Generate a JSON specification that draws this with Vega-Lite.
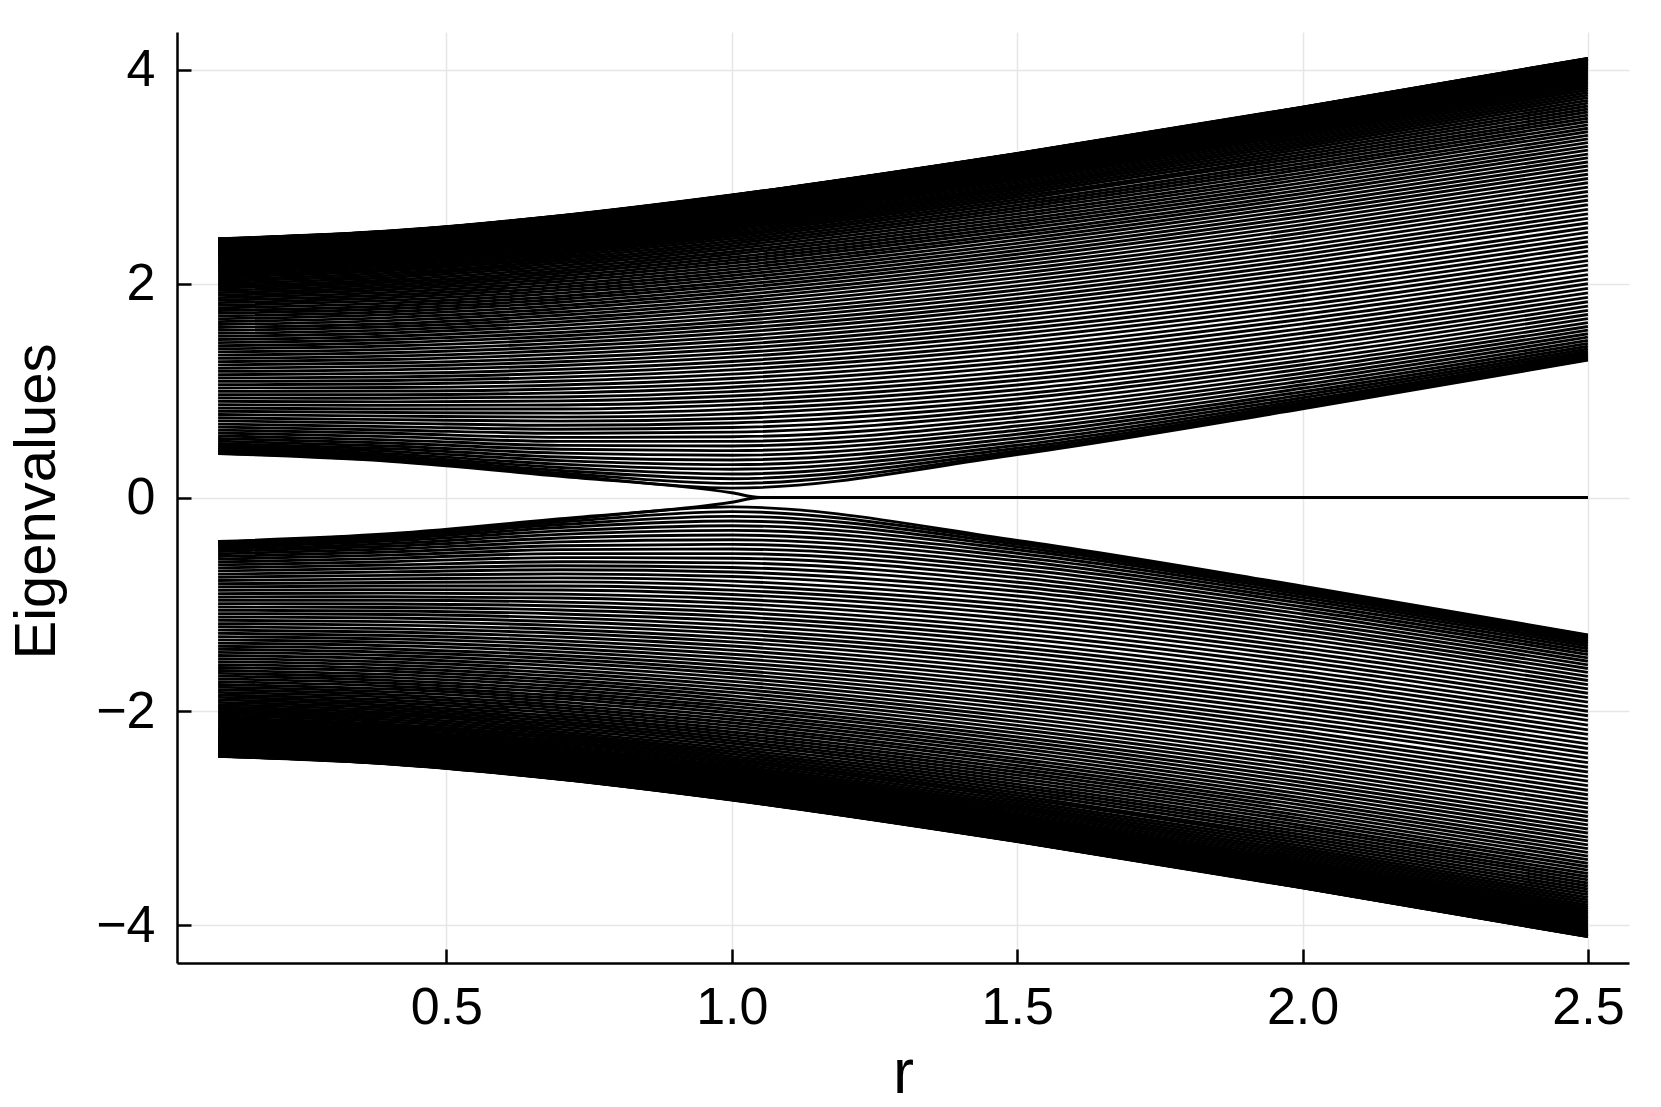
{
"$schema": "https://vega.github.io/schema/vega-lite/v6.json",
"width": 1452, "height": 931,
"autosize": {"type": "none"},
"padding": {"left": 177, "top": 32, "right": 32, "bottom": 144},
"background": "white",
"config": {"view": {"stroke": null}, "font": "Liberation Sans"},
"data": {"values": [
{"r":0.1,"j":1,"p":2.419,"n":-2.419},{"r":0.1,"j":2,"p":2.418,"n":-2.418},{"r":0.1,"j":3,"p":2.417,"n":-2.417},{"r":0.1,"j":4,"p":2.415,"n":-2.415},{"r":0.1,"j":5,"p":2.412,"n":-2.412},{"r":0.1,"j":6,"p":2.409,"n":-2.409},{"r":0.1,"j":7,"p":2.405,"n":-2.405},{"r":0.1,"j":8,"p":2.401,"n":-2.401},{"r":0.1,"j":9,"p":2.396,"n":-2.396},{"r":0.1,"j":10,"p":2.391,"n":-2.391},
{"r":0.1,"j":11,"p":2.385,"n":-2.385},{"r":0.1,"j":12,"p":2.378,"n":-2.378},{"r":0.1,"j":13,"p":2.371,"n":-2.371},{"r":0.1,"j":14,"p":2.364,"n":-2.364},{"r":0.1,"j":15,"p":2.356,"n":-2.356},{"r":0.1,"j":16,"p":2.347,"n":-2.347},{"r":0.1,"j":17,"p":2.338,"n":-2.338},{"r":0.1,"j":18,"p":2.328,"n":-2.328},{"r":0.1,"j":19,"p":2.317,"n":-2.317},{"r":0.1,"j":20,"p":2.306,"n":-2.306},
{"r":0.1,"j":21,"p":2.295,"n":-2.295},{"r":0.1,"j":22,"p":2.283,"n":-2.283},{"r":0.1,"j":23,"p":2.271,"n":-2.271},{"r":0.1,"j":24,"p":2.258,"n":-2.258},{"r":0.1,"j":25,"p":2.244,"n":-2.244},{"r":0.1,"j":26,"p":2.230,"n":-2.230},{"r":0.1,"j":27,"p":2.215,"n":-2.215},{"r":0.1,"j":28,"p":2.200,"n":-2.200},{"r":0.1,"j":29,"p":2.185,"n":-2.185},{"r":0.1,"j":30,"p":2.168,"n":-2.168},
{"r":0.1,"j":31,"p":2.152,"n":-2.152},{"r":0.1,"j":32,"p":2.135,"n":-2.135},{"r":0.1,"j":33,"p":2.117,"n":-2.117},{"r":0.1,"j":34,"p":2.099,"n":-2.099},{"r":0.1,"j":35,"p":2.080,"n":-2.080},{"r":0.1,"j":36,"p":2.061,"n":-2.061},{"r":0.1,"j":37,"p":2.042,"n":-2.042},{"r":0.1,"j":38,"p":2.022,"n":-2.022},{"r":0.1,"j":39,"p":2.001,"n":-2.001},{"r":0.1,"j":40,"p":1.980,"n":-1.980},
{"r":0.1,"j":41,"p":1.959,"n":-1.959},{"r":0.1,"j":42,"p":1.937,"n":-1.937},{"r":0.1,"j":43,"p":1.915,"n":-1.915},{"r":0.1,"j":44,"p":1.892,"n":-1.892},{"r":0.1,"j":45,"p":1.869,"n":-1.869},{"r":0.1,"j":46,"p":1.846,"n":-1.846},{"r":0.1,"j":47,"p":1.822,"n":-1.822},{"r":0.1,"j":48,"p":1.797,"n":-1.797},{"r":0.1,"j":49,"p":1.773,"n":-1.773},{"r":0.1,"j":50,"p":1.748,"n":-1.748},
{"r":0.1,"j":51,"p":1.722,"n":-1.722},{"r":0.1,"j":52,"p":1.696,"n":-1.696},{"r":0.1,"j":53,"p":1.670,"n":-1.670},{"r":0.1,"j":54,"p":1.644,"n":-1.644},{"r":0.1,"j":55,"p":1.617,"n":-1.617},{"r":0.1,"j":56,"p":1.589,"n":-1.589},{"r":0.1,"j":57,"p":1.562,"n":-1.562},{"r":0.1,"j":58,"p":1.534,"n":-1.534},{"r":0.1,"j":59,"p":1.506,"n":-1.506},{"r":0.1,"j":60,"p":1.477,"n":-1.477},
{"r":0.1,"j":61,"p":1.448,"n":-1.448},{"r":0.1,"j":62,"p":1.419,"n":-1.419},{"r":0.1,"j":63,"p":1.390,"n":-1.390},{"r":0.1,"j":64,"p":1.361,"n":-1.361},{"r":0.1,"j":65,"p":1.331,"n":-1.331},{"r":0.1,"j":66,"p":1.301,"n":-1.301},{"r":0.1,"j":67,"p":1.270,"n":-1.270},{"r":0.1,"j":68,"p":1.240,"n":-1.240},{"r":0.1,"j":69,"p":1.209,"n":-1.209},{"r":0.1,"j":70,"p":1.179,"n":-1.179},
{"r":0.1,"j":71,"p":1.148,"n":-1.148},{"r":0.1,"j":72,"p":1.117,"n":-1.117},{"r":0.1,"j":73,"p":1.086,"n":-1.086},{"r":0.1,"j":74,"p":1.055,"n":-1.055},{"r":0.1,"j":75,"p":1.024,"n":-1.024},{"r":0.1,"j":76,"p":0.992,"n":-0.992},{"r":0.1,"j":77,"p":0.961,"n":-0.961},{"r":0.1,"j":78,"p":0.930,"n":-0.930},{"r":0.1,"j":79,"p":0.899,"n":-0.899},{"r":0.1,"j":80,"p":0.868,"n":-0.868},
{"r":0.1,"j":81,"p":0.837,"n":-0.837},{"r":0.1,"j":82,"p":0.806,"n":-0.806},{"r":0.1,"j":83,"p":0.776,"n":-0.776},{"r":0.1,"j":84,"p":0.745,"n":-0.745},{"r":0.1,"j":85,"p":0.716,"n":-0.716},{"r":0.1,"j":86,"p":0.686,"n":-0.686},{"r":0.1,"j":87,"p":0.658,"n":-0.658},{"r":0.1,"j":88,"p":0.630,"n":-0.630},{"r":0.1,"j":89,"p":0.603,"n":-0.603},{"r":0.1,"j":90,"p":0.576,"n":-0.576},
{"r":0.1,"j":91,"p":0.551,"n":-0.551},{"r":0.1,"j":92,"p":0.527,"n":-0.527},{"r":0.1,"j":93,"p":0.505,"n":-0.505},{"r":0.1,"j":94,"p":0.484,"n":-0.484},{"r":0.1,"j":95,"p":0.466,"n":-0.466},{"r":0.1,"j":96,"p":0.449,"n":-0.449},{"r":0.1,"j":97,"p":0.435,"n":-0.435},{"r":0.1,"j":98,"p":0.424,"n":-0.424},{"r":0.1,"j":99,"p":0.416,"n":-0.416},{"r":0.1,"j":100,"p":0.411,"n":-0.411},
{"r":0.4,"j":1,"p":2.491,"n":-2.491},{"r":0.4,"j":2,"p":2.490,"n":-2.490},{"r":0.4,"j":3,"p":2.489,"n":-2.489},{"r":0.4,"j":4,"p":2.487,"n":-2.487},{"r":0.4,"j":5,"p":2.484,"n":-2.484},{"r":0.4,"j":6,"p":2.481,"n":-2.481},{"r":0.4,"j":7,"p":2.477,"n":-2.477},{"r":0.4,"j":8,"p":2.472,"n":-2.472},{"r":0.4,"j":9,"p":2.467,"n":-2.467},{"r":0.4,"j":10,"p":2.462,"n":-2.462},
{"r":0.4,"j":11,"p":2.456,"n":-2.456},{"r":0.4,"j":12,"p":2.449,"n":-2.449},{"r":0.4,"j":13,"p":2.441,"n":-2.441},{"r":0.4,"j":14,"p":2.434,"n":-2.434},{"r":0.4,"j":15,"p":2.425,"n":-2.425},{"r":0.4,"j":16,"p":2.416,"n":-2.416},{"r":0.4,"j":17,"p":2.406,"n":-2.406},{"r":0.4,"j":18,"p":2.396,"n":-2.396},{"r":0.4,"j":19,"p":2.385,"n":-2.385},{"r":0.4,"j":20,"p":2.374,"n":-2.374},
{"r":0.4,"j":21,"p":2.362,"n":-2.362},{"r":0.4,"j":22,"p":2.350,"n":-2.350},{"r":0.4,"j":23,"p":2.337,"n":-2.337},{"r":0.4,"j":24,"p":2.323,"n":-2.323},{"r":0.4,"j":25,"p":2.309,"n":-2.309},{"r":0.4,"j":26,"p":2.294,"n":-2.294},{"r":0.4,"j":27,"p":2.279,"n":-2.279},{"r":0.4,"j":28,"p":2.263,"n":-2.263},{"r":0.4,"j":29,"p":2.247,"n":-2.247},{"r":0.4,"j":30,"p":2.230,"n":-2.230},
{"r":0.4,"j":31,"p":2.213,"n":-2.213},{"r":0.4,"j":32,"p":2.195,"n":-2.195},{"r":0.4,"j":33,"p":2.177,"n":-2.177},{"r":0.4,"j":34,"p":2.158,"n":-2.158},{"r":0.4,"j":35,"p":2.138,"n":-2.138},{"r":0.4,"j":36,"p":2.119,"n":-2.119},{"r":0.4,"j":37,"p":2.098,"n":-2.098},{"r":0.4,"j":38,"p":2.077,"n":-2.077},{"r":0.4,"j":39,"p":2.056,"n":-2.056},{"r":0.4,"j":40,"p":2.034,"n":-2.034},
{"r":0.4,"j":41,"p":2.012,"n":-2.012},{"r":0.4,"j":42,"p":1.989,"n":-1.989},{"r":0.4,"j":43,"p":1.966,"n":-1.966},{"r":0.4,"j":44,"p":1.942,"n":-1.942},{"r":0.4,"j":45,"p":1.918,"n":-1.918},{"r":0.4,"j":46,"p":1.893,"n":-1.893},{"r":0.4,"j":47,"p":1.868,"n":-1.868},{"r":0.4,"j":48,"p":1.843,"n":-1.843},{"r":0.4,"j":49,"p":1.817,"n":-1.817},{"r":0.4,"j":50,"p":1.791,"n":-1.791},
{"r":0.4,"j":51,"p":1.764,"n":-1.764},{"r":0.4,"j":52,"p":1.737,"n":-1.737},{"r":0.4,"j":53,"p":1.710,"n":-1.710},{"r":0.4,"j":54,"p":1.682,"n":-1.682},{"r":0.4,"j":55,"p":1.654,"n":-1.654},{"r":0.4,"j":56,"p":1.625,"n":-1.625},{"r":0.4,"j":57,"p":1.596,"n":-1.596},{"r":0.4,"j":58,"p":1.567,"n":-1.567},{"r":0.4,"j":59,"p":1.538,"n":-1.538},{"r":0.4,"j":60,"p":1.508,"n":-1.508},
{"r":0.4,"j":61,"p":1.477,"n":-1.477},{"r":0.4,"j":62,"p":1.447,"n":-1.447},{"r":0.4,"j":63,"p":1.416,"n":-1.416},{"r":0.4,"j":64,"p":1.385,"n":-1.385},{"r":0.4,"j":65,"p":1.353,"n":-1.353},{"r":0.4,"j":66,"p":1.322,"n":-1.322},{"r":0.4,"j":67,"p":1.290,"n":-1.290},{"r":0.4,"j":68,"p":1.258,"n":-1.258},{"r":0.4,"j":69,"p":1.226,"n":-1.226},{"r":0.4,"j":70,"p":1.193,"n":-1.193},
{"r":0.4,"j":71,"p":1.160,"n":-1.160},{"r":0.4,"j":72,"p":1.127,"n":-1.127},{"r":0.4,"j":73,"p":1.094,"n":-1.094},{"r":0.4,"j":74,"p":1.061,"n":-1.061},{"r":0.4,"j":75,"p":1.028,"n":-1.028},{"r":0.4,"j":76,"p":0.995,"n":-0.995},{"r":0.4,"j":77,"p":0.961,"n":-0.961},{"r":0.4,"j":78,"p":0.928,"n":-0.928},{"r":0.4,"j":79,"p":0.894,"n":-0.894},{"r":0.4,"j":80,"p":0.861,"n":-0.861},
{"r":0.4,"j":81,"p":0.827,"n":-0.827},{"r":0.4,"j":82,"p":0.794,"n":-0.794},{"r":0.4,"j":83,"p":0.761,"n":-0.761},{"r":0.4,"j":84,"p":0.728,"n":-0.728},{"r":0.4,"j":85,"p":0.695,"n":-0.695},{"r":0.4,"j":86,"p":0.663,"n":-0.663},{"r":0.4,"j":87,"p":0.631,"n":-0.631},{"r":0.4,"j":88,"p":0.600,"n":-0.600},{"r":0.4,"j":89,"p":0.569,"n":-0.569},{"r":0.4,"j":90,"p":0.539,"n":-0.539},
{"r":0.4,"j":91,"p":0.510,"n":-0.510},{"r":0.4,"j":92,"p":0.482,"n":-0.482},{"r":0.4,"j":93,"p":0.456,"n":-0.456},{"r":0.4,"j":94,"p":0.431,"n":-0.431},{"r":0.4,"j":95,"p":0.408,"n":-0.408},{"r":0.4,"j":96,"p":0.388,"n":-0.388},{"r":0.4,"j":97,"p":0.370,"n":-0.370},{"r":0.4,"j":98,"p":0.356,"n":-0.356},{"r":0.4,"j":99,"p":0.346,"n":-0.346},{"r":0.4,"j":100,"p":0.339,"n":-0.339},
{"r":0.7,"j":1,"p":2.635,"n":-2.635},{"r":0.7,"j":2,"p":2.634,"n":-2.634},{"r":0.7,"j":3,"p":2.632,"n":-2.632},{"r":0.7,"j":4,"p":2.630,"n":-2.630},{"r":0.7,"j":5,"p":2.627,"n":-2.627},{"r":0.7,"j":6,"p":2.624,"n":-2.624},{"r":0.7,"j":7,"p":2.619,"n":-2.619},{"r":0.7,"j":8,"p":2.615,"n":-2.615},{"r":0.7,"j":9,"p":2.609,"n":-2.609},{"r":0.7,"j":10,"p":2.603,"n":-2.603},
{"r":0.7,"j":11,"p":2.597,"n":-2.597},{"r":0.7,"j":12,"p":2.589,"n":-2.589},{"r":0.7,"j":13,"p":2.582,"n":-2.582},{"r":0.7,"j":14,"p":2.573,"n":-2.573},{"r":0.7,"j":15,"p":2.564,"n":-2.564},{"r":0.7,"j":16,"p":2.554,"n":-2.554},{"r":0.7,"j":17,"p":2.544,"n":-2.544},{"r":0.7,"j":18,"p":2.533,"n":-2.533},{"r":0.7,"j":19,"p":2.521,"n":-2.521},{"r":0.7,"j":20,"p":2.509,"n":-2.509},
{"r":0.7,"j":21,"p":2.496,"n":-2.496},{"r":0.7,"j":22,"p":2.483,"n":-2.483},{"r":0.7,"j":23,"p":2.469,"n":-2.469},{"r":0.7,"j":24,"p":2.454,"n":-2.454},{"r":0.7,"j":25,"p":2.439,"n":-2.439},{"r":0.7,"j":26,"p":2.424,"n":-2.424},{"r":0.7,"j":27,"p":2.407,"n":-2.407},{"r":0.7,"j":28,"p":2.390,"n":-2.390},{"r":0.7,"j":29,"p":2.373,"n":-2.373},{"r":0.7,"j":30,"p":2.355,"n":-2.355},
{"r":0.7,"j":31,"p":2.336,"n":-2.336},{"r":0.7,"j":32,"p":2.317,"n":-2.317},{"r":0.7,"j":33,"p":2.297,"n":-2.297},{"r":0.7,"j":34,"p":2.277,"n":-2.277},{"r":0.7,"j":35,"p":2.256,"n":-2.256},{"r":0.7,"j":36,"p":2.235,"n":-2.235},{"r":0.7,"j":37,"p":2.213,"n":-2.213},{"r":0.7,"j":38,"p":2.191,"n":-2.191},{"r":0.7,"j":39,"p":2.168,"n":-2.168},{"r":0.7,"j":40,"p":2.144,"n":-2.144},
{"r":0.7,"j":41,"p":2.120,"n":-2.120},{"r":0.7,"j":42,"p":2.096,"n":-2.096},{"r":0.7,"j":43,"p":2.071,"n":-2.071},{"r":0.7,"j":44,"p":2.045,"n":-2.045},{"r":0.7,"j":45,"p":2.019,"n":-2.019},{"r":0.7,"j":46,"p":1.993,"n":-1.993},{"r":0.7,"j":47,"p":1.966,"n":-1.966},{"r":0.7,"j":48,"p":1.939,"n":-1.939},{"r":0.7,"j":49,"p":1.911,"n":-1.911},{"r":0.7,"j":50,"p":1.882,"n":-1.882},
{"r":0.7,"j":51,"p":1.854,"n":-1.854},{"r":0.7,"j":52,"p":1.825,"n":-1.825},{"r":0.7,"j":53,"p":1.795,"n":-1.795},{"r":0.7,"j":54,"p":1.765,"n":-1.765},{"r":0.7,"j":55,"p":1.734,"n":-1.734},{"r":0.7,"j":56,"p":1.704,"n":-1.704},{"r":0.7,"j":57,"p":1.672,"n":-1.672},{"r":0.7,"j":58,"p":1.641,"n":-1.641},{"r":0.7,"j":59,"p":1.609,"n":-1.609},{"r":0.7,"j":60,"p":1.576,"n":-1.576},
{"r":0.7,"j":61,"p":1.543,"n":-1.543},{"r":0.7,"j":62,"p":1.510,"n":-1.510},{"r":0.7,"j":63,"p":1.477,"n":-1.477},{"r":0.7,"j":64,"p":1.443,"n":-1.443},{"r":0.7,"j":65,"p":1.409,"n":-1.409},{"r":0.7,"j":66,"p":1.374,"n":-1.374},{"r":0.7,"j":67,"p":1.340,"n":-1.340},{"r":0.7,"j":68,"p":1.304,"n":-1.304},{"r":0.7,"j":69,"p":1.269,"n":-1.269},{"r":0.7,"j":70,"p":1.234,"n":-1.234},
{"r":0.7,"j":71,"p":1.198,"n":-1.198},{"r":0.7,"j":72,"p":1.162,"n":-1.162},{"r":0.7,"j":73,"p":1.125,"n":-1.125},{"r":0.7,"j":74,"p":1.089,"n":-1.089},{"r":0.7,"j":75,"p":1.052,"n":-1.052},{"r":0.7,"j":76,"p":1.015,"n":-1.015},{"r":0.7,"j":77,"p":0.978,"n":-0.978},{"r":0.7,"j":78,"p":0.940,"n":-0.940},{"r":0.7,"j":79,"p":0.903,"n":-0.903},{"r":0.7,"j":80,"p":0.865,"n":-0.865},
{"r":0.7,"j":81,"p":0.827,"n":-0.827},{"r":0.7,"j":82,"p":0.789,"n":-0.789},{"r":0.7,"j":83,"p":0.751,"n":-0.751},{"r":0.7,"j":84,"p":0.714,"n":-0.714},{"r":0.7,"j":85,"p":0.675,"n":-0.675},{"r":0.7,"j":86,"p":0.638,"n":-0.638},{"r":0.7,"j":87,"p":0.600,"n":-0.600},{"r":0.7,"j":88,"p":0.562,"n":-0.562},{"r":0.7,"j":89,"p":0.525,"n":-0.525},{"r":0.7,"j":90,"p":0.487,"n":-0.487},
{"r":0.7,"j":91,"p":0.451,"n":-0.451},{"r":0.7,"j":92,"p":0.415,"n":-0.415},{"r":0.7,"j":93,"p":0.379,"n":-0.379},{"r":0.7,"j":94,"p":0.345,"n":-0.345},{"r":0.7,"j":95,"p":0.312,"n":-0.312},{"r":0.7,"j":96,"p":0.281,"n":-0.281},{"r":0.7,"j":97,"p":0.253,"n":-0.253},{"r":0.7,"j":98,"p":0.229,"n":-0.229},{"r":0.7,"j":99,"p":0.210,"n":-0.210},{"r":0.7,"j":100,"p":0.198,"n":-0.198},
{"r":1.0,"j":1,"p":2.828,"n":-2.828},{"r":1.0,"j":2,"p":2.827,"n":-2.827},{"r":1.0,"j":3,"p":2.825,"n":-2.825},{"r":1.0,"j":4,"p":2.823,"n":-2.823},{"r":1.0,"j":5,"p":2.820,"n":-2.820},{"r":1.0,"j":6,"p":2.816,"n":-2.816},{"r":1.0,"j":7,"p":2.812,"n":-2.812},{"r":1.0,"j":8,"p":2.807,"n":-2.807},{"r":1.0,"j":9,"p":2.801,"n":-2.801},{"r":1.0,"j":10,"p":2.794,"n":-2.794},
{"r":1.0,"j":11,"p":2.787,"n":-2.787},{"r":1.0,"j":12,"p":2.779,"n":-2.779},{"r":1.0,"j":13,"p":2.771,"n":-2.771},{"r":1.0,"j":14,"p":2.762,"n":-2.762},{"r":1.0,"j":15,"p":2.752,"n":-2.752},{"r":1.0,"j":16,"p":2.741,"n":-2.741},{"r":1.0,"j":17,"p":2.730,"n":-2.730},{"r":1.0,"j":18,"p":2.718,"n":-2.718},{"r":1.0,"j":19,"p":2.706,"n":-2.706},{"r":1.0,"j":20,"p":2.693,"n":-2.693},
{"r":1.0,"j":21,"p":2.679,"n":-2.679},{"r":1.0,"j":22,"p":2.665,"n":-2.665},{"r":1.0,"j":23,"p":2.649,"n":-2.649},{"r":1.0,"j":24,"p":2.634,"n":-2.634},{"r":1.0,"j":25,"p":2.617,"n":-2.617},{"r":1.0,"j":26,"p":2.600,"n":-2.600},{"r":1.0,"j":27,"p":2.583,"n":-2.583},{"r":1.0,"j":28,"p":2.565,"n":-2.565},{"r":1.0,"j":29,"p":2.546,"n":-2.546},{"r":1.0,"j":30,"p":2.526,"n":-2.526},
{"r":1.0,"j":31,"p":2.506,"n":-2.506},{"r":1.0,"j":32,"p":2.485,"n":-2.485},{"r":1.0,"j":33,"p":2.464,"n":-2.464},{"r":1.0,"j":34,"p":2.442,"n":-2.442},{"r":1.0,"j":35,"p":2.420,"n":-2.420},{"r":1.0,"j":36,"p":2.397,"n":-2.397},{"r":1.0,"j":37,"p":2.373,"n":-2.373},{"r":1.0,"j":38,"p":2.349,"n":-2.349},{"r":1.0,"j":39,"p":2.324,"n":-2.324},{"r":1.0,"j":40,"p":2.298,"n":-2.298},
{"r":1.0,"j":41,"p":2.273,"n":-2.273},{"r":1.0,"j":42,"p":2.246,"n":-2.246},{"r":1.0,"j":43,"p":2.219,"n":-2.219},{"r":1.0,"j":44,"p":2.192,"n":-2.192},{"r":1.0,"j":45,"p":2.163,"n":-2.163},{"r":1.0,"j":46,"p":2.135,"n":-2.135},{"r":1.0,"j":47,"p":2.106,"n":-2.106},{"r":1.0,"j":48,"p":2.076,"n":-2.076},{"r":1.0,"j":49,"p":2.046,"n":-2.046},{"r":1.0,"j":50,"p":2.015,"n":-2.015},
{"r":1.0,"j":51,"p":1.984,"n":-1.984},{"r":1.0,"j":52,"p":1.953,"n":-1.953},{"r":1.0,"j":53,"p":1.921,"n":-1.921},{"r":1.0,"j":54,"p":1.888,"n":-1.888},{"r":1.0,"j":55,"p":1.855,"n":-1.855},{"r":1.0,"j":56,"p":1.822,"n":-1.822},{"r":1.0,"j":57,"p":1.788,"n":-1.788},{"r":1.0,"j":58,"p":1.754,"n":-1.754},{"r":1.0,"j":59,"p":1.719,"n":-1.719},{"r":1.0,"j":60,"p":1.684,"n":-1.684},
{"r":1.0,"j":61,"p":1.648,"n":-1.648},{"r":1.0,"j":62,"p":1.613,"n":-1.613},{"r":1.0,"j":63,"p":1.576,"n":-1.576},{"r":1.0,"j":64,"p":1.540,"n":-1.540},{"r":1.0,"j":65,"p":1.502,"n":-1.502},{"r":1.0,"j":66,"p":1.465,"n":-1.465},{"r":1.0,"j":67,"p":1.427,"n":-1.427},{"r":1.0,"j":68,"p":1.389,"n":-1.389},{"r":1.0,"j":69,"p":1.350,"n":-1.350},{"r":1.0,"j":70,"p":1.312,"n":-1.312},
{"r":1.0,"j":71,"p":1.272,"n":-1.272},{"r":1.0,"j":72,"p":1.233,"n":-1.233},{"r":1.0,"j":73,"p":1.193,"n":-1.193},{"r":1.0,"j":74,"p":1.153,"n":-1.153},{"r":1.0,"j":75,"p":1.113,"n":-1.113},{"r":1.0,"j":76,"p":1.072,"n":-1.072},{"r":1.0,"j":77,"p":1.031,"n":-1.031},{"r":1.0,"j":78,"p":0.990,"n":-0.990},{"r":1.0,"j":79,"p":0.949,"n":-0.949},{"r":1.0,"j":80,"p":0.907,"n":-0.907},
{"r":1.0,"j":81,"p":0.866,"n":-0.866},{"r":1.0,"j":82,"p":0.824,"n":-0.824},{"r":1.0,"j":83,"p":0.782,"n":-0.782},{"r":1.0,"j":84,"p":0.739,"n":-0.739},{"r":1.0,"j":85,"p":0.697,"n":-0.697},{"r":1.0,"j":86,"p":0.654,"n":-0.654},{"r":1.0,"j":87,"p":0.611,"n":-0.611},{"r":1.0,"j":88,"p":0.568,"n":-0.568},{"r":1.0,"j":89,"p":0.525,"n":-0.525},{"r":1.0,"j":90,"p":0.482,"n":-0.482},
{"r":1.0,"j":91,"p":0.438,"n":-0.438},{"r":1.0,"j":92,"p":0.395,"n":-0.395},{"r":1.0,"j":93,"p":0.351,"n":-0.351},{"r":1.0,"j":94,"p":0.307,"n":-0.307},{"r":1.0,"j":95,"p":0.264,"n":-0.264},{"r":1.0,"j":96,"p":0.220,"n":-0.220},{"r":1.0,"j":97,"p":0.176,"n":-0.176},{"r":1.0,"j":98,"p":0.132,"n":-0.132},{"r":1.0,"j":99,"p":0.088,"n":-0.088},{"r":1.0,"j":100,"p":0.044,"n":-0.044},
{"r":1.05,"j":100,"p":0,"n":0},
{"r":1.5,"j":1,"p":3.217,"n":-3.217},{"r":1.5,"j":2,"p":3.215,"n":-3.215},{"r":1.5,"j":3,"p":3.214,"n":-3.214},{"r":1.5,"j":4,"p":3.211,"n":-3.211},{"r":1.5,"j":5,"p":3.207,"n":-3.207},{"r":1.5,"j":6,"p":3.203,"n":-3.203},{"r":1.5,"j":7,"p":3.198,"n":-3.198},{"r":1.5,"j":8,"p":3.193,"n":-3.193},{"r":1.5,"j":9,"p":3.186,"n":-3.186},{"r":1.5,"j":10,"p":3.179,"n":-3.179},
{"r":1.5,"j":11,"p":3.171,"n":-3.171},{"r":1.5,"j":12,"p":3.162,"n":-3.162},{"r":1.5,"j":13,"p":3.152,"n":-3.152},{"r":1.5,"j":14,"p":3.142,"n":-3.142},{"r":1.5,"j":15,"p":3.131,"n":-3.131},{"r":1.5,"j":16,"p":3.119,"n":-3.119},{"r":1.5,"j":17,"p":3.107,"n":-3.107},{"r":1.5,"j":18,"p":3.094,"n":-3.094},{"r":1.5,"j":19,"p":3.080,"n":-3.080},{"r":1.5,"j":20,"p":3.065,"n":-3.065},
{"r":1.5,"j":21,"p":3.049,"n":-3.049},{"r":1.5,"j":22,"p":3.033,"n":-3.033},{"r":1.5,"j":23,"p":3.016,"n":-3.016},{"r":1.5,"j":24,"p":2.999,"n":-2.999},{"r":1.5,"j":25,"p":2.981,"n":-2.981},{"r":1.5,"j":26,"p":2.962,"n":-2.962},{"r":1.5,"j":27,"p":2.942,"n":-2.942},{"r":1.5,"j":28,"p":2.921,"n":-2.921},{"r":1.5,"j":29,"p":2.900,"n":-2.900},{"r":1.5,"j":30,"p":2.879,"n":-2.879},
{"r":1.5,"j":31,"p":2.856,"n":-2.856},{"r":1.5,"j":32,"p":2.833,"n":-2.833},{"r":1.5,"j":33,"p":2.809,"n":-2.809},{"r":1.5,"j":34,"p":2.785,"n":-2.785},{"r":1.5,"j":35,"p":2.760,"n":-2.760},{"r":1.5,"j":36,"p":2.734,"n":-2.734},{"r":1.5,"j":37,"p":2.707,"n":-2.707},{"r":1.5,"j":38,"p":2.680,"n":-2.680},{"r":1.5,"j":39,"p":2.652,"n":-2.652},{"r":1.5,"j":40,"p":2.624,"n":-2.624},
{"r":1.5,"j":41,"p":2.595,"n":-2.595},{"r":1.5,"j":42,"p":2.566,"n":-2.566},{"r":1.5,"j":43,"p":2.536,"n":-2.536},{"r":1.5,"j":44,"p":2.505,"n":-2.505},{"r":1.5,"j":45,"p":2.473,"n":-2.473},{"r":1.5,"j":46,"p":2.442,"n":-2.442},{"r":1.5,"j":47,"p":2.409,"n":-2.409},{"r":1.5,"j":48,"p":2.376,"n":-2.376},{"r":1.5,"j":49,"p":2.343,"n":-2.343},{"r":1.5,"j":50,"p":2.309,"n":-2.309},
{"r":1.5,"j":51,"p":2.274,"n":-2.274},{"r":1.5,"j":52,"p":2.239,"n":-2.239},{"r":1.5,"j":53,"p":2.203,"n":-2.203},{"r":1.5,"j":54,"p":2.167,"n":-2.167},{"r":1.5,"j":55,"p":2.130,"n":-2.130},{"r":1.5,"j":56,"p":2.093,"n":-2.093},{"r":1.5,"j":57,"p":2.056,"n":-2.056},{"r":1.5,"j":58,"p":2.018,"n":-2.018},{"r":1.5,"j":59,"p":1.979,"n":-1.979},{"r":1.5,"j":60,"p":1.940,"n":-1.940},
{"r":1.5,"j":61,"p":1.901,"n":-1.901},{"r":1.5,"j":62,"p":1.861,"n":-1.861},{"r":1.5,"j":63,"p":1.821,"n":-1.821},{"r":1.5,"j":64,"p":1.781,"n":-1.781},{"r":1.5,"j":65,"p":1.740,"n":-1.740},{"r":1.5,"j":66,"p":1.699,"n":-1.699},{"r":1.5,"j":67,"p":1.657,"n":-1.657},{"r":1.5,"j":68,"p":1.615,"n":-1.615},{"r":1.5,"j":69,"p":1.573,"n":-1.573},{"r":1.5,"j":70,"p":1.531,"n":-1.531},
{"r":1.5,"j":71,"p":1.488,"n":-1.488},{"r":1.5,"j":72,"p":1.445,"n":-1.445},{"r":1.5,"j":73,"p":1.402,"n":-1.402},{"r":1.5,"j":74,"p":1.359,"n":-1.359},{"r":1.5,"j":75,"p":1.315,"n":-1.315},{"r":1.5,"j":76,"p":1.271,"n":-1.271},{"r":1.5,"j":77,"p":1.228,"n":-1.228},{"r":1.5,"j":78,"p":1.184,"n":-1.184},{"r":1.5,"j":79,"p":1.140,"n":-1.140},{"r":1.5,"j":80,"p":1.096,"n":-1.096},
{"r":1.5,"j":81,"p":1.052,"n":-1.052},{"r":1.5,"j":82,"p":1.008,"n":-1.008},{"r":1.5,"j":83,"p":0.964,"n":-0.964},{"r":1.5,"j":84,"p":0.921,"n":-0.921},{"r":1.5,"j":85,"p":0.877,"n":-0.877},{"r":1.5,"j":86,"p":0.834,"n":-0.834},{"r":1.5,"j":87,"p":0.792,"n":-0.792},{"r":1.5,"j":88,"p":0.750,"n":-0.750},{"r":1.5,"j":89,"p":0.709,"n":-0.709},{"r":1.5,"j":90,"p":0.668,"n":-0.668},
{"r":1.5,"j":91,"p":0.629,"n":-0.629},{"r":1.5,"j":92,"p":0.591,"n":-0.591},{"r":1.5,"j":93,"p":0.555,"n":-0.555},{"r":1.5,"j":94,"p":0.521,"n":-0.521},{"r":1.5,"j":95,"p":0.489,"n":-0.489},{"r":1.5,"j":96,"p":0.461,"n":-0.461},{"r":1.5,"j":97,"p":0.436,"n":-0.436},{"r":1.5,"j":98,"p":0.416,"n":-0.416},{"r":1.5,"j":99,"p":0.401,"n":-0.401},{"r":1.5,"j":100,"p":0,"n":0},
{"r":2.0,"j":1,"p":3.650,"n":-3.650},{"r":2.0,"j":2,"p":3.649,"n":-3.649},{"r":2.0,"j":3,"p":3.647,"n":-3.647},{"r":2.0,"j":4,"p":3.644,"n":-3.644},{"r":2.0,"j":5,"p":3.640,"n":-3.640},{"r":2.0,"j":6,"p":3.635,"n":-3.635},{"r":2.0,"j":7,"p":3.630,"n":-3.630},{"r":2.0,"j":8,"p":3.624,"n":-3.624},{"r":2.0,"j":9,"p":3.616,"n":-3.616},{"r":2.0,"j":10,"p":3.608,"n":-3.608},
{"r":2.0,"j":11,"p":3.600,"n":-3.600},{"r":2.0,"j":12,"p":3.590,"n":-3.590},{"r":2.0,"j":13,"p":3.580,"n":-3.580},{"r":2.0,"j":14,"p":3.569,"n":-3.569},{"r":2.0,"j":15,"p":3.557,"n":-3.557},{"r":2.0,"j":16,"p":3.544,"n":-3.544},{"r":2.0,"j":17,"p":3.530,"n":-3.530},{"r":2.0,"j":18,"p":3.516,"n":-3.516},{"r":2.0,"j":19,"p":3.500,"n":-3.500},{"r":2.0,"j":20,"p":3.484,"n":-3.484},
{"r":2.0,"j":21,"p":3.467,"n":-3.467},{"r":2.0,"j":22,"p":3.450,"n":-3.450},{"r":2.0,"j":23,"p":3.431,"n":-3.431},{"r":2.0,"j":24,"p":3.412,"n":-3.412},{"r":2.0,"j":25,"p":3.392,"n":-3.392},{"r":2.0,"j":26,"p":3.371,"n":-3.371},{"r":2.0,"j":27,"p":3.350,"n":-3.350},{"r":2.0,"j":28,"p":3.328,"n":-3.328},{"r":2.0,"j":29,"p":3.305,"n":-3.305},{"r":2.0,"j":30,"p":3.281,"n":-3.281},
{"r":2.0,"j":31,"p":3.257,"n":-3.257},{"r":2.0,"j":32,"p":3.231,"n":-3.231},{"r":2.0,"j":33,"p":3.206,"n":-3.206},{"r":2.0,"j":34,"p":3.179,"n":-3.179},{"r":2.0,"j":35,"p":3.152,"n":-3.152},{"r":2.0,"j":36,"p":3.124,"n":-3.124},{"r":2.0,"j":37,"p":3.095,"n":-3.095},{"r":2.0,"j":38,"p":3.066,"n":-3.066},{"r":2.0,"j":39,"p":3.035,"n":-3.035},{"r":2.0,"j":40,"p":3.005,"n":-3.005},
{"r":2.0,"j":41,"p":2.974,"n":-2.974},{"r":2.0,"j":42,"p":2.942,"n":-2.942},{"r":2.0,"j":43,"p":2.909,"n":-2.909},{"r":2.0,"j":44,"p":2.876,"n":-2.876},{"r":2.0,"j":45,"p":2.842,"n":-2.842},{"r":2.0,"j":46,"p":2.808,"n":-2.808},{"r":2.0,"j":47,"p":2.773,"n":-2.773},{"r":2.0,"j":48,"p":2.737,"n":-2.737},{"r":2.0,"j":49,"p":2.701,"n":-2.701},{"r":2.0,"j":50,"p":2.664,"n":-2.664},
{"r":2.0,"j":51,"p":2.627,"n":-2.627},{"r":2.0,"j":52,"p":2.589,"n":-2.589},{"r":2.0,"j":53,"p":2.551,"n":-2.551},{"r":2.0,"j":54,"p":2.513,"n":-2.513},{"r":2.0,"j":55,"p":2.473,"n":-2.473},{"r":2.0,"j":56,"p":2.434,"n":-2.434},{"r":2.0,"j":57,"p":2.394,"n":-2.394},{"r":2.0,"j":58,"p":2.353,"n":-2.353},{"r":2.0,"j":59,"p":2.312,"n":-2.312},{"r":2.0,"j":60,"p":2.271,"n":-2.271},
{"r":2.0,"j":61,"p":2.230,"n":-2.230},{"r":2.0,"j":62,"p":2.188,"n":-2.188},{"r":2.0,"j":63,"p":2.145,"n":-2.145},{"r":2.0,"j":64,"p":2.103,"n":-2.103},{"r":2.0,"j":65,"p":2.060,"n":-2.060},{"r":2.0,"j":66,"p":2.017,"n":-2.017},{"r":2.0,"j":67,"p":1.973,"n":-1.973},{"r":2.0,"j":68,"p":1.930,"n":-1.930},{"r":2.0,"j":69,"p":1.886,"n":-1.886},{"r":2.0,"j":70,"p":1.842,"n":-1.842},
{"r":2.0,"j":71,"p":1.798,"n":-1.798},{"r":2.0,"j":72,"p":1.755,"n":-1.755},{"r":2.0,"j":73,"p":1.711,"n":-1.711},{"r":2.0,"j":74,"p":1.667,"n":-1.667},{"r":2.0,"j":75,"p":1.623,"n":-1.623},{"r":2.0,"j":76,"p":1.579,"n":-1.579},{"r":2.0,"j":77,"p":1.535,"n":-1.535},{"r":2.0,"j":78,"p":1.492,"n":-1.492},{"r":2.0,"j":79,"p":1.449,"n":-1.449},{"r":2.0,"j":80,"p":1.406,"n":-1.406},
{"r":2.0,"j":81,"p":1.364,"n":-1.364},{"r":2.0,"j":82,"p":1.322,"n":-1.322},{"r":2.0,"j":83,"p":1.281,"n":-1.281},{"r":2.0,"j":84,"p":1.241,"n":-1.241},{"r":2.0,"j":85,"p":1.201,"n":-1.201},{"r":2.0,"j":86,"p":1.162,"n":-1.162},{"r":2.0,"j":87,"p":1.125,"n":-1.125},{"r":2.0,"j":88,"p":1.089,"n":-1.089},{"r":2.0,"j":89,"p":1.054,"n":-1.054},{"r":2.0,"j":90,"p":1.021,"n":-1.021},
{"r":2.0,"j":91,"p":0.989,"n":-0.989},{"r":2.0,"j":92,"p":0.960,"n":-0.960},{"r":2.0,"j":93,"p":0.933,"n":-0.933},{"r":2.0,"j":94,"p":0.908,"n":-0.908},{"r":2.0,"j":95,"p":0.886,"n":-0.886},{"r":2.0,"j":96,"p":0.867,"n":-0.867},{"r":2.0,"j":97,"p":0.851,"n":-0.851},{"r":2.0,"j":98,"p":0.838,"n":-0.838},{"r":2.0,"j":99,"p":0.829,"n":-0.829},{"r":2.0,"j":100,"p":0,"n":0},
{"r":2.5,"j":1,"p":4.106,"n":-4.106},{"r":2.5,"j":2,"p":4.105,"n":-4.105},{"r":2.5,"j":3,"p":4.103,"n":-4.103},{"r":2.5,"j":4,"p":4.100,"n":-4.100},{"r":2.5,"j":5,"p":4.096,"n":-4.096},{"r":2.5,"j":6,"p":4.091,"n":-4.091},{"r":2.5,"j":7,"p":4.085,"n":-4.085},{"r":2.5,"j":8,"p":4.078,"n":-4.078},{"r":2.5,"j":9,"p":4.071,"n":-4.071},{"r":2.5,"j":10,"p":4.062,"n":-4.062},
{"r":2.5,"j":11,"p":4.053,"n":-4.053},{"r":2.5,"j":12,"p":4.042,"n":-4.042},{"r":2.5,"j":13,"p":4.031,"n":-4.031},{"r":2.5,"j":14,"p":4.019,"n":-4.019},{"r":2.5,"j":15,"p":4.006,"n":-4.006},{"r":2.5,"j":16,"p":3.993,"n":-3.993},{"r":2.5,"j":17,"p":3.978,"n":-3.978},{"r":2.5,"j":18,"p":3.963,"n":-3.963},{"r":2.5,"j":19,"p":3.946,"n":-3.946},{"r":2.5,"j":20,"p":3.929,"n":-3.929},
{"r":2.5,"j":21,"p":3.911,"n":-3.911},{"r":2.5,"j":22,"p":3.892,"n":-3.892},{"r":2.5,"j":23,"p":3.873,"n":-3.873},{"r":2.5,"j":24,"p":3.852,"n":-3.852},{"r":2.5,"j":25,"p":3.831,"n":-3.831},{"r":2.5,"j":26,"p":3.809,"n":-3.809},{"r":2.5,"j":27,"p":3.786,"n":-3.786},{"r":2.5,"j":28,"p":3.762,"n":-3.762},{"r":2.5,"j":29,"p":3.738,"n":-3.738},{"r":2.5,"j":30,"p":3.713,"n":-3.713},
{"r":2.5,"j":31,"p":3.687,"n":-3.687},{"r":2.5,"j":32,"p":3.660,"n":-3.660},{"r":2.5,"j":33,"p":3.632,"n":-3.632},{"r":2.5,"j":34,"p":3.604,"n":-3.604},{"r":2.5,"j":35,"p":3.575,"n":-3.575},{"r":2.5,"j":36,"p":3.546,"n":-3.546},{"r":2.5,"j":37,"p":3.515,"n":-3.515},{"r":2.5,"j":38,"p":3.484,"n":-3.484},{"r":2.5,"j":39,"p":3.452,"n":-3.452},{"r":2.5,"j":40,"p":3.420,"n":-3.420},
{"r":2.5,"j":41,"p":3.386,"n":-3.386},{"r":2.5,"j":42,"p":3.353,"n":-3.353},{"r":2.5,"j":43,"p":3.318,"n":-3.318},{"r":2.5,"j":44,"p":3.283,"n":-3.283},{"r":2.5,"j":45,"p":3.248,"n":-3.248},{"r":2.5,"j":46,"p":3.211,"n":-3.211},{"r":2.5,"j":47,"p":3.175,"n":-3.175},{"r":2.5,"j":48,"p":3.137,"n":-3.137},{"r":2.5,"j":49,"p":3.099,"n":-3.099},{"r":2.5,"j":50,"p":3.061,"n":-3.061},
{"r":2.5,"j":51,"p":3.022,"n":-3.022},{"r":2.5,"j":52,"p":2.982,"n":-2.982},{"r":2.5,"j":53,"p":2.943,"n":-2.943},{"r":2.5,"j":54,"p":2.902,"n":-2.902},{"r":2.5,"j":55,"p":2.861,"n":-2.861},{"r":2.5,"j":56,"p":2.820,"n":-2.820},{"r":2.5,"j":57,"p":2.779,"n":-2.779},{"r":2.5,"j":58,"p":2.737,"n":-2.737},{"r":2.5,"j":59,"p":2.694,"n":-2.694},{"r":2.5,"j":60,"p":2.652,"n":-2.652},
{"r":2.5,"j":61,"p":2.609,"n":-2.609},{"r":2.5,"j":62,"p":2.566,"n":-2.566},{"r":2.5,"j":63,"p":2.522,"n":-2.522},{"r":2.5,"j":64,"p":2.479,"n":-2.479},{"r":2.5,"j":65,"p":2.435,"n":-2.435},{"r":2.5,"j":66,"p":2.391,"n":-2.391},{"r":2.5,"j":67,"p":2.347,"n":-2.347},{"r":2.5,"j":68,"p":2.303,"n":-2.303},{"r":2.5,"j":69,"p":2.259,"n":-2.259},{"r":2.5,"j":70,"p":2.215,"n":-2.215},
{"r":2.5,"j":71,"p":2.172,"n":-2.172},{"r":2.5,"j":72,"p":2.128,"n":-2.128},{"r":2.5,"j":73,"p":2.084,"n":-2.084},{"r":2.5,"j":74,"p":2.041,"n":-2.041},{"r":2.5,"j":75,"p":1.998,"n":-1.998},{"r":2.5,"j":76,"p":1.955,"n":-1.955},{"r":2.5,"j":77,"p":1.913,"n":-1.913},{"r":2.5,"j":78,"p":1.871,"n":-1.871},{"r":2.5,"j":79,"p":1.830,"n":-1.830},{"r":2.5,"j":80,"p":1.789,"n":-1.789},
{"r":2.5,"j":81,"p":1.750,"n":-1.750},{"r":2.5,"j":82,"p":1.711,"n":-1.711},{"r":2.5,"j":83,"p":1.672,"n":-1.672},{"r":2.5,"j":84,"p":1.635,"n":-1.635},{"r":2.5,"j":85,"p":1.599,"n":-1.599},{"r":2.5,"j":86,"p":1.565,"n":-1.565},{"r":2.5,"j":87,"p":1.531,"n":-1.531},{"r":2.5,"j":88,"p":1.500,"n":-1.500},{"r":2.5,"j":89,"p":1.469,"n":-1.469},{"r":2.5,"j":90,"p":1.441,"n":-1.441},
{"r":2.5,"j":91,"p":1.414,"n":-1.414},{"r":2.5,"j":92,"p":1.389,"n":-1.389},{"r":2.5,"j":93,"p":1.367,"n":-1.367},{"r":2.5,"j":94,"p":1.347,"n":-1.347},{"r":2.5,"j":95,"p":1.329,"n":-1.329},{"r":2.5,"j":96,"p":1.314,"n":-1.314},{"r":2.5,"j":97,"p":1.301,"n":-1.301},{"r":2.5,"j":98,"p":1.291,"n":-1.291},{"r":2.5,"j":99,"p":1.284,"n":-1.284},{"r":2.5,"j":100,"p":0,"n":0}
]},
"transform": [{"fold": ["p", "n"], "as": ["band", "e"]}],
"mark": {"type": "line", "color": "black", "strokeWidth": 2.9, "interpolate": "monotone"},
"encoding": {
  "x": {"field": "r", "type": "quantitative",
    "scale": {"domain": [0.028, 2.572], "nice": false, "zero": false},
    "axis": {"values": [0.5, 1, 1.5, 2, 2.5], "format": ".1f", "title": "r",
      "grid": true, "gridColor": "#e6e6e6", "gridWidth": 1.5,
      "domainColor": "black", "domainWidth": 2.5, "tickColor": "black", "tickWidth": 2.5, "tickSize": -14,
      "labelPadding": 33, "labelFontSize": 52, "labelColor": "black", "labelFont": "Liberation Sans", "labelFlush": false, "labelOverlap": false,
      "titleFontSize": 63, "titleFont": "Liberation Sans", "titleFontWeight": "normal", "titleColor": "black",
      "titleBaseline": "alphabetic", "titleY": 129}},
  "y": {"field": "e", "type": "quantitative",
    "scale": {"domain": [-4.352, 4.352], "nice": false, "zero": false},
    "axis": {"values": [-4, -2, 0, 2, 4], "format": "d", "title": "Eigenvalues",
      "grid": true, "gridColor": "#e6e6e6", "gridWidth": 1.5,
      "domainColor": "black", "domainWidth": 2.5, "tickColor": "black", "tickWidth": 2.5, "tickSize": -14,
      "labelPadding": 36, "labelFontSize": 52, "labelColor": "black", "labelFont": "Liberation Sans", "labelFlush": false, "labelOverlap": false,
      "titleFontSize": 58, "titleFont": "Liberation Sans", "titleFontWeight": "normal", "titleColor": "black",
      "titleAngle": -90, "titleAlign": "center", "titleBaseline": "alphabetic", "titleX": -123, "titleY": 469}},
  "detail": [{"field": "j", "type": "nominal"}, {"field": "band", "type": "nominal"}]
}
}
